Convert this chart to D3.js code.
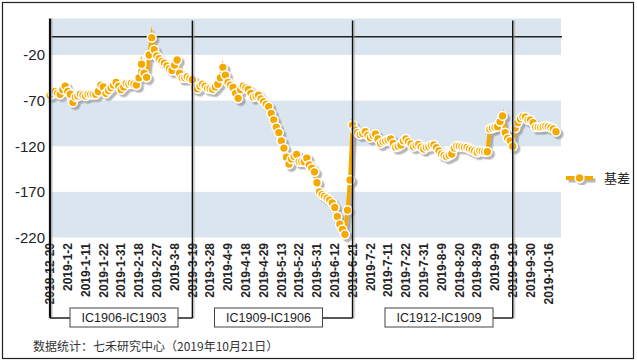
<!DOCTYPE html>
<html>
<head>
<meta charset="utf-8">
<script src="https://cdn.jsdelivr.net/npm/d3@7"></script>
<style>
  body { margin: 0; background: #fff; }
  svg { display: block; font-family: "Liberation Sans", Arial, sans-serif; }
</style>
</head>
<body>
<svg id="chart" width="637" height="362"></svg>
<script>
// trading calendar: weekdays between these dates, minus exchange holidays
const firstDay = new Date(2018, 11, 20);
const lastDay = new Date(2019, 9, 21);
const holidays = [
  "2018-12-31", "2019-01-01",
  "2019-02-04", "2019-02-05", "2019-02-06", "2019-02-07", "2019-02-08",
  "2019-04-05", "2019-05-01", "2019-05-02", "2019-05-03", "2019-06-07",
  "2019-09-13",
  "2019-10-01", "2019-10-02", "2019-10-03", "2019-10-04", "2019-10-07"
];

const yTicks = [-220, -170, -120, -70, -20];
const yMax = 20;

// basis, one value per trading day
const basis = [
  // 2018-12-20 .. 2019-3-19
  -64, -62, -60, -62, -63, -58, -54, -60, -63, -72,
  -66, -65, -63, -64, -65, -63, -63, -63, -63, -60,
  -53, -55, -62, -59, -56, -53, -50, -54, -58, -55,
  -51, -52, -51, -52, -53, -45, -30, -40, -44.5, -20,
  -1, -14, -21, -24, -27, -29, -32, -35, -37, -31,
  -25.5, -40, -45, -45, -44, -46, -47,
  // .. 2019-6-21
  -56, -57, -54, -52, -54, -56.5, -57, -57.6, -55, -52,
  -45, -33.5, -42, -50, -53, -55.5, -62, -67.5, -58, -54,
  -56, -57.6, -62, -66, -65, -64, -68, -71, -74, -76.6,
  -84, -91, -99, -105, -114, -122, -132, -139.5, -134, -131,
  -129, -137, -137, -137, -133, -140.5, -144, -148, -160, -170,
  -173, -175, -177, -179, -182, -187, -197, -205.5, -211, -216.5,
  -190, -157, -97,
  // .. 2019-10-21
  -102, -105, -107, -106, -104, -108, -110.6, -108, -106.6, -112,
  -116.8, -115, -114, -113, -112, -117, -121, -120, -118.6, -114,
  -112, -115, -117.5, -120.5, -119, -118, -121, -123, -121, -120.5,
  -119, -118.6, -121.5, -125, -128.5, -130, -131.4, -130, -128.5, -122,
  -119.7, -120, -120.5, -121, -121.2, -123, -124, -125.5, -126.7, -125,
  -125.5, -126, -126, -101, -100, -99, -98.5, -93, -86.8, -105,
  -111.3, -114, -120, -100, -94, -90, -87.6, -88, -91, -91,
  -94, -99, -99, -99, -98.5, -98, -98.5, -99.5, -101, -104
];

const periodLabels = ["IC1906-IC1903", "IC1909-IC1906", "IC1912-IC1909"];
const periodEnds = ["2019-3-19", "2019-6-21", "2019-9-19"];
const boxCenters = [124, 268.5, 439];

const seriesName = "基差";
const sourceNote = "数据统计：七禾研究中心（2019年10月21日）";

const isoFmt = d3.timeFormat("%Y-%m-%d");
const labelFmt = d3.timeFormat("%Y-%-m-%-d");
const holidaySet = new Set(holidays);
const dates = d3.timeDay.range(firstDay, d3.timeDay.offset(lastDay, 1))
  .filter(d => d.getDay() !== 0 && d.getDay() !== 6 && !holidaySet.has(isoFmt(d)))
  .map(labelFmt);

const data = dates.map((d, i) => ({ date: d, value: basis[i] }));

const orange = "#f5a900";
const markerR = 4.4;
const svg = d3.select("#chart");

const x = d3.scalePoint().domain(dates).range([50, 556]);
const y = d3.scaleLinear().domain([yTicks[0], yMax]).range([237.5, 18.5]);

const defs = svg.append("defs");
defs.append("filter").attr("id", "shadow")
  .attr("x", "-10%").attr("y", "-10%").attr("width", "130%").attr("height", "130%")
  .append("feDropShadow")
  .attr("dx", 2.5).attr("dy", 2.5).attr("stdDeviation", 0.7)
  .attr("flood-color", "#7a7a7a").attr("flood-opacity", 0.55);
defs.append("filter").attr("id", "lineShadow")
  .append("feDropShadow")
  .attr("dx", 1.5).attr("dy", 0).attr("stdDeviation", 0.4)
  .attr("flood-color", "#999").attr("flood-opacity", 0.6);

// background bands
const bandEdges = yTicks.concat([yMax]);
const bands = [];
for (let i = 0; i < bandEdges.length - 1; i += 2) bands.push([bandEdges[i], bandEdges[i + 1]]);
svg.append("g").selectAll("rect").data(bands).join("rect")
  .attr("x", 50).attr("width", 511)
  .attr("y", d => y(d[1])).attr("height", d => y(d[0]) - y(d[1]))
  .attr("fill", "#dbe5f0");

// zero line
svg.append("line")
  .attr("x1", 50).attr("x2", 562)
  .attr("y1", y(0)).attr("y2", y(0))
  .attr("stroke", "#222").attr("stroke-width", 1.3);

// y labels
svg.append("g").selectAll("text").data(yTicks).join("text")
  .attr("x", 45).attr("y", d => y(d)).attr("dy", "0.35em")
  .attr("text-anchor", "end")
  .style("font-size", "15px").attr("fill", "#222")
  .text(d => d);

// x labels every 7 trading days
const xTickLabels = dates.filter((d, i) => i % 7 === 0);
svg.append("g").selectAll("text").data(xTickLabels).join("text")
  .attr("transform", d => `translate(${x(d)},243) rotate(-90)`)
  .attr("dy", "0.35em")
  .attr("text-anchor", "end")
  .style("font-size", "12px").style("font-weight", "bold").attr("fill", "#222")
  .text(d => d);

// series
const line = d3.line().x(d => x(d.date)).y(d => y(d.value));
const series = svg.append("g").attr("filter", "url(#shadow)");
series.append("path").datum(data)
  .attr("d", line)
  .attr("fill", "none").attr("stroke", orange).attr("stroke-width", 4)
  .attr("stroke-linejoin", "miter").attr("stroke-miterlimit", 6);
series.selectAll("circle").data(data).join("circle")
  .attr("cx", d => x(d.date)).attr("cy", d => y(d.value))
  .attr("r", markerR)
  .attr("fill", orange).attr("stroke", "#fff").attr("stroke-width", 1.5);

// contract periods: separators, brackets and boxes
const bracketY = 318;
const boxW = 108, boxH = 19;
const guides = svg.append("g").attr("filter", "url(#lineShadow)");
guides.append("line")
  .attr("x1", 50).attr("x2", 50).attr("y1", 18.5).attr("y2", bracketY)
  .attr("stroke", "#111").attr("stroke-width", 2.2);

periodLabels.forEach((label, i) => {
  const xe = x(periodEnds[i]);
  const cx = boxCenters[i];
  guides.append("line")
    .attr("x1", xe).attr("x2", xe).attr("y1", 20.5).attr("y2", bracketY)
    .attr("stroke", "#111").attr("stroke-width", 1.5);
  guides.append("line")
    .attr("x1", cx + boxW / 2).attr("x2", xe).attr("y1", bracketY).attr("y2", bracketY)
    .attr("stroke", "#111").attr("stroke-width", 1.5);
  if (i === 0) {
    guides.append("line")
      .attr("x1", 50).attr("x2", cx - boxW / 2).attr("y1", bracketY).attr("y2", bracketY)
      .attr("stroke", "#111").attr("stroke-width", 1.5);
  }
  svg.append("rect")
    .attr("x", cx - boxW / 2).attr("y", bracketY - boxH / 2 - 0.5)
    .attr("width", boxW).attr("height", boxH)
    .attr("fill", "#fff").attr("stroke", "#444").attr("stroke-width", 1);
  svg.append("text")
    .attr("x", cx).attr("y", bracketY).attr("dy", "0.35em")
    .attr("text-anchor", "middle")
    .style("font-size", "12.5px").attr("fill", "#222")
    .text(label);
});

// legend
const legend = svg.append("g").attr("transform", "translate(566,178)");
const legendMark = legend.append("g").attr("filter", "url(#shadow)");
legendMark.append("line").attr("x1", 0).attr("x2", 27)
  .attr("stroke", orange).attr("stroke-width", 4);
legendMark.append("circle").attr("cx", 13.5).attr("r", markerR)
  .attr("fill", orange).attr("stroke", "#fff").attr("stroke-width", 1.5);
legend.append("text").attr("x", 38).attr("dy", "0.35em")
  .style("font-family", "'Noto Sans CJK SC', sans-serif")
  .style("font-size", "13px").attr("fill", "#222")
  .text(seriesName);

// source note
svg.append("text")
  .attr("x", 33).attr("y", 351)
  .style("font-family", "'Noto Sans CJK SC', sans-serif")
  .style("font-size", "12px").attr("fill", "#333")
  .text(sourceNote);

// outer frame
svg.append("rect")
  .attr("x", 2.5).attr("y", 2.5).attr("width", 631).attr("height", 356)
  .attr("fill", "none").attr("stroke", "#222").attr("stroke-width", 1.2);
</script>
</body>
</html>
